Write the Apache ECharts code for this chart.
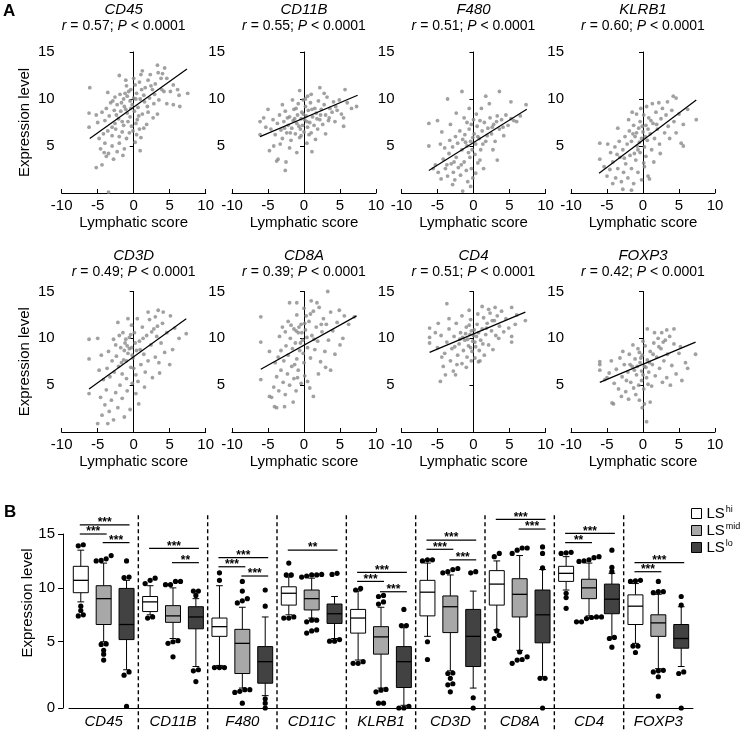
<!DOCTYPE html>
<html><head><meta charset="utf-8">
<script src="https://cdn.jsdelivr.net/npm/echarts@6/dist/echarts.min.js"></script>
<style>html,body{margin:0;padding:0;background:#fff}#c{width:742px;height:730px}</style>
</head><body><div id="c"></div>
<script>
// ---------------- Panel A data ----------------
const genesA = ['CD45','CD11B','F480','KLRB1','CD3D','CD8A','CD4','FOXP3'];
const rValues = ['0.57','0.55','0.51','0.60','0.49','0.39','0.51','0.42'];
const xTickLabels = ['-10','-5','0','5','10'];
const yTickLabels = ['5','10','15'];

const ptsCD45 = [[-6.1,11.2],[-6.2,8.5],[-6.2,7.0],[-5.2,8.3],[-5.2,2.7],[-4.4,3.0],[-3.8,3.9],[-4.6,4.7],[-4.0,5.3],[-3.5,4.2],[-3.0,5.0],[-2.8,3.6],[-2.3,4.4],[-1.5,4.0],[-1.3,4.7],[-4.8,5.8],[-4.2,6.3],[-3.6,6.6],[-3.0,6.1],[-2.5,6.8],[-2.0,6.0],[-1.6,6.5],[-1.0,5.8],[-0.6,6.4],[0.2,5.4],[0.9,4.5],[0.4,6.2],[-5.0,7.5],[-4.0,7.7],[-3.4,8.2],[-2.6,7.4],[-2.1,7.9],[-1.4,7.2],[-0.8,7.6],[-0.3,7.1],[0.3,7.4],[0.8,6.8],[1.4,6.9],[1.8,7.3],[-3.8,9.0],[-3.2,9.6],[-2.7,8.8],[-2.3,9.4],[-1.8,8.7],[-1.3,9.2],[-0.9,8.5],[-0.4,9.0],[0.1,8.7],[0.6,9.1],[1.2,8.4],[2.0,8.6],[2.7,8.0],[3.3,8.4],[-3.6,10.7],[-2.6,10.2],[-1.9,10.5],[-1.4,10.0],[-0.9,10.3],[-0.5,9.8],[0.0,10.1],[0.4,10.6],[0.9,10.0],[1.5,9.7],[2.2,10.1],[2.8,9.5],[3.5,9.9],[-2.0,12.5],[-1.0,11.4],[-0.4,11.0],[0.2,11.5],[0.8,11.8],[1.0,12.6],[1.6,11.2],[2.0,12.0],[2.3,12.6],[2.6,11.0],[3.0,11.6],[3.3,13.6],[3.8,12.2],[4.3,13.3],[4.6,12.2],[4.2,10.8],[5.1,10.8],[5.5,11.5],[5.5,9.4],[6.1,11.0],[6.3,10.4],[7.5,10.6],[6.4,9.2],[4.6,9.5],[-1.1,12.0],[1.2,13.0],[3.9,11.0],[-3.5,0.1],[-1.7,9.6],[-1.1,8.9],[-0.7,10.8],[-0.2,9.4],[0.3,10.0],[0.7,8.2],[1.1,11.0],[1.4,10.4],[1.9,9.2],[2.4,11.4],[2.9,10.5],[3.4,12.8],[4.0,12.7],[-2.4,8.3],[-1.6,7.6],[-0.5,8.1],[0.5,7.8],[-2.9,9.8],[-1.2,10.6],[0.0,12.2],[-4.4,8.6],[-3.0,7.0],[-0.1,6.6],[1.0,5.9],[-2.0,5.3],[-4.1,4.3]];
const ptsCD11B = [[-6.1,7.6],[-6.1,6.2],[-5.0,8.9],[-4.8,4.5],[-3.8,3.4],[-3.6,3.6],[-2.5,3.3],[-2.6,2.4],[-4.2,5.0],[1.1,4.4],[5.5,7.1],[5.5,8.0],[7.3,9.2],[5.7,11.0],[2.2,11.2],[-0.6,10.9],[-5.3,7.0],[-4.6,6.8],[-4.3,7.8],[-4.0,6.2],[-3.7,7.4],[-3.4,8.3],[-3.2,6.7],[-3.0,5.8],[-2.8,7.6],[-2.6,8.7],[-2.4,6.4],[-2.2,7.2],[-2.0,8.1],[-1.8,5.6],[-1.7,6.9],[-1.5,7.7],[-1.4,8.9],[-1.2,6.3],[-1.0,7.4],[-0.9,8.3],[-0.8,9.5],[-0.6,5.9],[-0.5,6.8],[-0.4,7.9],[-0.3,8.6],[-0.2,7.2],[0.0,6.5],[0.1,7.8],[0.2,9.2],[0.3,8.2],[0.4,5.3],[0.5,7.0],[0.6,8.8],[0.8,7.5],[0.9,9.6],[1.0,6.4],[1.2,8.1],[1.4,7.2],[1.5,9.0],[1.7,8.5],[1.9,6.8],[2.0,9.8],[2.2,7.8],[2.4,8.9],[2.6,7.3],[2.8,9.4],[3.0,8.3],[3.2,10.2],[3.4,7.7],[3.6,9.0],[3.9,8.6],[4.1,9.7],[4.3,7.6],[4.6,8.8],[4.9,9.9],[5.2,8.4],[6.0,9.6],[6.6,9.0],[2.8,10.6],[0.5,10.3],[-1.6,9.9],[-3.0,9.4],[-2.0,4.8],[-1.0,4.3],[-3.3,5.2],[1.6,5.7],[3.0,6.3],[-5.6,8.0],[-0.1,9.9],[1.0,10.5],[-1.3,7.9],[-0.7,7.1],[-0.1,8.4],[0.4,7.6],[0.7,6.2],[1.1,8.9],[1.8,7.9],[2.3,8.3],[-2.3,8.0],[-1.9,6.4],[-0.4,6.1],[-2.7,6.9],[-1.1,9.0],[0.2,10.0],[3.5,8.0],[4.4,9.2]];
const ptsF480 = [[-6.2,7.4],[-5.0,7.7],[-6.2,5.0],[-3.6,10.0],[-1.6,10.8],[1.7,10.3],[3.6,10.8],[5.2,9.7],[7.3,9.4],[5.6,7.7],[3.3,3.5],[-1.5,0.2],[-0.4,0.7],[-2.9,0.9],[-5.3,3.0],[-4.9,2.2],[-4.5,1.5],[-4.2,3.6],[-3.9,2.6],[-3.6,1.8],[-3.4,4.2],[-3.1,3.1],[-2.8,2.2],[-2.6,1.4],[-2.4,3.8],[-2.1,2.7],[-1.8,1.9],[-1.6,4.6],[-1.3,3.3],[-1.0,2.4],[-0.8,1.2],[-0.5,3.8],[-0.3,2.6],[-0.1,1.6],[0.3,2.1],[0.6,3.2],[-4.6,5.2],[-4.0,4.8],[-3.3,5.6],[-2.9,4.9],[-2.5,6.0],[-2.2,5.3],[-1.9,6.6],[-1.5,5.7],[-1.2,6.2],[-0.9,5.0],[-0.6,6.8],[-0.4,5.5],[-0.2,4.6],[0.1,6.3],[0.3,5.2],[0.5,7.1],[0.8,5.8],[1.0,4.6],[1.2,6.6],[1.5,7.5],[1.7,5.5],[2.0,6.9],[2.3,8.0],[2.5,6.3],[2.8,7.3],[3.0,5.5],[3.3,8.2],[3.6,6.8],[3.9,7.8],[4.2,6.1],[4.5,8.3],[4.8,7.2],[5.2,7.9],[6.0,7.6],[6.5,8.2],[-3.2,7.3],[-2.4,8.5],[-1.3,8.0],[-0.6,9.0],[0.4,8.4],[1.1,9.0],[2.2,9.5],[-4.4,6.5],[0.9,3.5],[1.4,2.6],[-5.6,2.6],[2.7,4.6],[-0.9,7.5],[0.0,7.8],[-0.7,4.3],[-0.1,5.9],[0.2,4.1],[0.6,6.0],[-1.1,5.4],[-1.7,3.0],[1.3,5.2],[1.9,6.1],[2.6,7.0],[3.2,7.6],[4.1,7.0],[-2.7,3.3],[-3.7,3.0],[-0.3,7.3],[0.9,7.7]];
const ptsKLRB1 = [[-6.0,5.3],[-6.0,3.6],[-4.9,5.2],[-3.5,6.9],[4.2,10.3],[4.6,10.1],[7.4,7.8],[5.3,5.3],[5.6,5.0],[-4.2,1.0],[-2.8,0.4],[-1.6,0.3],[0.9,1.5],[0.7,1.8],[-5.4,2.8],[-5.0,1.8],[-4.6,2.5],[-4.2,3.3],[-3.8,1.6],[-3.5,2.6],[-3.2,3.8],[-3.0,1.2],[-2.7,2.2],[-2.4,3.1],[-2.1,1.6],[-1.8,4.0],[-1.6,2.6],[-1.3,1.0],[-1.0,3.5],[-0.7,2.2],[-0.4,4.3],[-0.2,1.4],[0.2,2.8],[0.4,3.9],[-4.5,4.3],[-3.9,4.9],[-3.3,5.5],[-2.8,4.6],[-2.5,6.0],[-2.2,5.2],[-1.9,6.6],[-1.6,5.5],[-1.3,7.2],[-1.1,6.0],[-0.8,5.0],[-0.6,6.9],[-0.4,7.6],[-0.2,5.8],[0.0,6.5],[0.2,4.9],[0.4,7.2],[0.6,5.6],[0.8,8.0],[1.0,6.3],[1.2,4.6],[1.4,7.4],[1.6,5.8],[1.8,8.6],[2.0,6.8],[2.3,5.2],[2.5,7.9],[2.7,9.0],[3.0,6.4],[3.2,8.3],[3.5,7.1],[3.7,5.8],[4.0,8.8],[4.3,7.6],[4.6,6.4],[5.0,8.4],[5.6,7.3],[6.2,8.9],[-0.9,8.4],[-0.3,9.0],[0.5,9.2],[1.3,9.5],[2.2,9.6],[3.4,9.7],[-2.0,7.8],[1.5,3.3],[2.4,4.2],[-1.5,8.6],[0.1,3.2],[-0.9,6.4],[-0.5,5.4],[-0.1,7.1],[0.3,6.0],[0.7,6.8],[-1.4,6.3],[-0.7,4.6],[0.1,8.3],[1.1,7.7],[1.9,7.3],[-1.2,4.2],[-2.6,3.7],[-3.6,4.1]];
const ptsCD3D = [[-6.2,9.9],[-6.2,7.8],[-5.0,10.0],[-4.8,6.6],[-6.2,4.1],[-5.0,0.9],[-3.6,0.9],[-4.6,3.7],[-1.3,1.6],[0.7,3.0],[3.4,13.0],[4.1,12.8],[7.3,10.5],[5.7,11.1],[5.4,8.8],[3.6,6.3],[-2.2,11.7],[-0.8,12.1],[-4.4,1.8],[-4.0,2.9],[-3.8,4.5],[-3.4,2.2],[-3.1,3.4],[-2.8,1.3],[-2.5,4.2],[-2.2,2.6],[-1.9,5.0],[-1.6,3.6],[-0.9,4.4],[-0.5,2.4],[-0.2,5.2],[0.3,4.1],[-4.2,5.6],[-3.7,6.8],[-3.3,5.9],[-3.0,7.6],[-2.7,6.4],[-2.4,8.1],[-2.1,7.0],[-1.8,9.0],[-1.6,6.2],[-1.4,7.7],[-1.2,9.5],[-1.0,5.7],[-0.8,8.4],[-0.6,10.1],[-0.4,6.9],[-0.3,9.0],[-0.1,7.9],[0.1,10.6],[0.3,6.1],[0.4,8.7],[0.6,5.4],[0.8,9.7],[1.0,7.2],[1.2,11.2],[1.4,8.3],[1.6,6.4],[1.8,10.3],[2.0,7.6],[2.2,12.0],[2.4,9.3],[2.6,5.8],[2.8,11.0],[3.0,8.0],[3.2,10.2],[3.5,7.4],[3.8,9.5],[4.0,11.6],[4.3,8.5],[4.6,10.6],[5.0,7.2],[2.0,12.8],[0.5,12.1],[-1.5,10.6],[-2.8,9.9],[-3.5,8.6],[-2.0,10.3],[-0.3,11.4],[1.5,4.8],[-4.5,8.2],[6.3,10.0],[5.1,12.4],[3.0,12.3],[-1.1,9.9],[-0.9,9.2],[-0.6,8.9],[-0.4,10.4],[-1.3,8.7],[0.2,9.5],[-0.2,8.2],[-1.7,7.4],[0.9,8.8],[1.3,10.0],[2.5,10.7],[3.3,11.3],[-2.5,9.3],[-1.0,7.6],[0.0,6.8]];
const ptsCD8A = [[-6.0,12.3],[-6.0,9.6],[-6.0,5.6],[-4.8,8.6],[-4.1,2.7],[-3.8,2.6],[-2.7,2.7],[-4.8,3.8],[-4.5,3.7],[-2.0,13.8],[-1.0,13.8],[3.3,15.0],[1.0,14.0],[7.0,12.3],[5.6,12.4],[5.4,10.0],[3.7,6.6],[1.3,3.8],[0.8,4.7],[-4.2,4.8],[-3.8,5.9],[-3.5,4.4],[-3.2,6.6],[-2.9,5.3],[-2.6,4.0],[-2.3,6.2],[-2.0,5.0],[-1.7,7.0],[-1.4,5.7],[-1.1,4.4],[-0.8,6.6],[-0.4,5.2],[0.1,6.0],[0.5,5.4],[-4.0,7.4],[-3.6,8.0],[-3.2,8.7],[-2.8,7.6],[-2.5,9.2],[-2.2,8.2],[-1.9,10.0],[-1.6,8.9],[-1.4,11.0],[-1.2,9.5],[-1.0,7.8],[-0.8,10.6],[-0.6,8.7],[-0.4,11.5],[-0.2,9.8],[0.0,7.4],[0.2,10.9],[0.3,12.4],[0.5,9.0],[0.7,11.8],[0.9,7.9],[1.1,10.3],[1.3,12.9],[1.5,8.8],[1.7,11.2],[1.9,9.7],[2.1,13.3],[2.3,7.5],[2.5,10.7],[2.7,12.1],[2.9,8.6],[3.1,11.5],[3.4,9.8],[3.7,12.8],[4.0,10.8],[4.3,8.3],[4.6,11.7],[5.0,9.3],[-3.0,11.2],[-2.2,11.8],[-1.0,12.5],[1.8,13.8],[0.0,13.2],[-3.4,10.2],[2.0,6.2],[3.0,6.9],[6.2,11.5],[-1.5,3.2],[4.9,13.0],[-1.1,10.8],[-0.7,11.2],[-0.3,10.6],[0.1,11.6],[-1.8,11.4],[-0.5,9.5],[0.4,10.1],[-2.6,10.7],[0.9,12.6],[-0.1,8.4],[-1.3,7.2],[1.4,9.9],[2.4,11.5],[-0.9,5.8]];
const ptsCD4 = [[-6.1,11.1],[-6.1,10.1],[-6.1,9.5],[-4.9,11.6],[-3.7,13.7],[-4.6,5.4],[-3.9,6.1],[-4.2,7.0],[-2.8,6.5],[-2.5,6.1],[5.3,13.3],[7.2,11.9],[5.8,11.5],[5.3,10.2],[5.3,9.6],[0.7,7.5],[0.9,7.6],[3.5,10.0],[2.1,13.1],[-5.0,9.0],[-4.5,10.3],[-4.0,8.4],[-3.7,9.6],[-3.4,11.0],[-3.2,7.6],[-3.0,8.9],[-2.7,10.2],[-2.4,11.6],[-2.2,8.2],[-2.0,9.4],[-1.8,10.6],[-1.6,7.3],[-1.4,8.7],[-1.2,9.8],[-1.0,11.2],[-0.9,8.0],[-0.7,9.2],[-0.5,10.4],[-0.4,12.0],[-0.2,8.6],[-0.1,9.7],[0.1,10.9],[0.2,7.9],[0.3,9.1],[0.4,10.2],[0.5,11.5],[0.6,12.6],[0.8,8.7],[1.0,9.8],[1.2,11.0],[1.4,12.2],[1.5,8.2],[1.7,10.4],[1.9,11.6],[2.1,9.3],[2.3,12.7],[2.5,10.8],[2.7,8.8],[2.9,11.9],[3.1,10.3],[3.3,12.4],[3.6,11.3],[3.9,12.9],[4.2,10.7],[4.5,12.1],[4.9,11.1],[6.0,12.5],[-3.4,12.1],[-1.6,12.4],[-0.6,13.0],[1.2,13.4],[3.0,13.3],[-2.3,7.2],[-1.0,6.9],[-0.3,7.6],[-4.4,8.0],[-5.3,10.6],[-1.5,10.1],[-1.1,10.5],[-0.8,9.9],[-0.3,10.8],[0.0,10.3],[0.2,9.6],[0.7,10.6],[-0.6,11.4],[-1.9,9.9],[1.3,9.4],[1.8,11.1],[2.6,11.9],[-2.6,9.1],[-0.4,9.0]];
const ptsFOXP3 = [[-6.0,7.5],[-6.0,7.2],[-6.0,6.6],[-5.0,5.8],[-4.3,3.1],[-4.1,3.0],[-0.1,2.6],[0.2,3.0],[1.0,3.2],[0.5,1.1],[0.6,11.0],[3.3,10.9],[4.3,11.0],[5.2,9.1],[7.3,8.3],[5.9,7.4],[5.4,5.5],[3.3,5.8],[-5.3,5.6],[-4.7,6.3],[-4.4,7.6],[-4.0,5.2],[-3.7,6.7],[-3.4,4.6],[-3.2,7.9],[-2.9,5.9],[-2.6,7.2],[-2.4,4.3],[-2.1,6.4],[-1.9,8.3],[-1.7,5.3],[-1.5,7.0],[-1.3,4.7],[-1.1,7.8],[-0.9,6.1],[-0.7,8.9],[-0.6,5.0],[-0.4,7.4],[-0.2,6.5],[-0.1,8.2],[0.1,4.6],[0.2,7.0],[0.3,9.2],[0.5,5.8],[0.6,7.7],[0.8,6.4],[1.0,8.6],[1.2,4.9],[1.3,7.2],[1.5,9.5],[1.7,6.0],[1.9,8.0],[2.1,10.0],[2.3,6.8],[2.5,8.9],[2.7,5.3],[2.9,7.6],[3.1,9.8],[3.4,8.3],[3.7,10.2],[4.0,7.1],[4.3,9.4],[4.6,6.2],[5.0,8.4],[6.2,6.8],[-2.0,3.5],[-1.0,4.0],[-3.0,3.8],[1.6,10.6],[2.6,10.6],[-1.4,9.3],[0.0,9.7],[3.8,5.0],[-0.5,3.4],[-2.8,8.6],[-0.8,7.0],[-0.3,7.9],[0.0,6.1],[0.4,6.9],[-1.2,6.6],[-0.5,8.5],[0.9,7.4],[-1.8,7.2],[1.4,8.3],[2.2,9.1],[2.8,9.6],[-0.2,5.5],[0.7,5.1],[-2.3,5.5]];
const pointsA = [ptsCD45, ptsCD11B, ptsF480, ptsKLRB1, ptsCD3D, ptsCD8A, ptsCD4, ptsFOXP3];

// regression line end points
const fitCD45 = [[-6.1,5.8],[7.4,13.2]];
const fitCD11B = [[-6.1,6.0],[7.45,10.4]];
const fitF480 = [[-6.2,2.4],[7.4,8.9]];
const fitKLRB1 = [[-6.1,2.1],[7.4,9.9]];
const fitCD3D = [[-6.2,4.6],[7.3,12.1]];
const fitCD8A = [[-6.0,6.7],[7.3,12.4]];
const fitCD4 = [[-6.1,8.5],[7.2,12.8]];
const fitFOXP3 = [[-6.0,5.3],[7.3,9.6]];
const fitsA = [fitCD45, fitCD11B, fitF480, fitKLRB1, fitCD3D, fitCD8A, fitCD4, fitFOXP3];

// ---------------- Panel B data ----------------
const genesB = ['CD45','CD11B','F480','CD11C','KLRB1','CD3D','CD8A','CD4','FOXP3'];
const groupNames = ['hi','mid','lo'];
// [low whisker, Q1, median, Q3, high whisker]
const boxHi = [[8.7,9.55,10.7,12.0,13.5],[7.5,7.8,8.7,9.2,10.2],[2.8,5.5,6.4,7.2,10.2],[7.5,8.4,9.5,10.1,11.0],[3.3,5.8,7.2,8.0,9.7],[5.5,7.4,9.6,10.7,12.3],[6.1,8.4,10.35,11.6,12.5],[9.8,10.6,11.35,12.0,12.9],[4.85,6.6,8.3,9.35,10.4]];
const boxMid = [[5.0,6.6,9.0,10.2,12.3],[5.3,6.8,7.4,8.35,10.0],[0.7,2.05,4.85,6.15,8.2],[7.2,7.95,9.0,9.8,10.9],[0.7,3.85,5.45,6.4,8.2],[2.3,5.85,8.25,9.25,11.2],[4.2,7.3,9.4,10.85,13.0],[7.4,9.0,10.0,10.8,12.3],[2.5,5.5,6.75,7.5,9.4]];
const boxLo = [[2.4,5.2,6.6,9.95,10.7],[2.7,6.2,7.3,8.25,9.0],[0.0,1.15,3.15,4.55,7.3],[5.3,6.7,7.6,8.5,9.2],[-0.9,0.75,3.15,4.55,6.3],[0.7,2.7,5.5,8.0,9.7],[1.75,4.9,7.5,9.8,11.7],[5.45,7.6,8.95,10.35,11.35],[2.7,4.4,5.3,6.6,8.25]];
// outliers: [gene index, value]
const outHi = [[0,14.0],[0,13.9],[0,8.3],[0,7.9],[0,7.5],[0,7.4],[1,10.9],[1,10.7],[1,10.4],[1,7.3],[1,7.2],[2,11.4],[2,10.7],[2,2.6],[2,2.6],[2,2.6],[3,12.3],[3,11.2],[3,11.2],[3,7.3],[3,7.2],[3,7.2],[4,9.95],[4,9.8],[4,3.15],[4,3.0],[4,3.0],[5,12.6],[5,12.5],[5,12.6],[5,5.0],[5,3.35],[6,13.2],[6,12.9],[6,6.0],[6,5.6],[6,5.3],[7,13.3],[7,13.2],[7,13.25],[7,9.5],[7,9.1],[7,8.1],[8,10.7],[8,10.6],[8,10.65],[8,4.6],[8,4.6],[8,4.0]];
const outMid = [[0,13.0],[0,12.7],[0,12.5],[0,12.55],[0,4.8],[0,4.75],[0,4.2],[0,3.85],[0,3.3],[1,10.6],[1,10.3],[1,10.6],[1,10.3],[1,5.1],[1,4.85],[1,5.0],[1,3.6],[2,10.6],[2,9.7],[2,9.0],[2,8.8],[2,8.6],[2,0.55],[2,0.4],[2,0.55],[2,0.3],[2,-0.7],[3,11.2],[3,11.2],[3,11.0],[3,11.1],[3,11.25],[3,7.0],[3,6.85],[3,7.0],[3,6.1],[3,5.8],[3,6.0],[4,9.3],[4,9.2],[4,8.7],[4,8.5],[4,0.57],[4,0.5],[4,0.35],[4,-0.7],[4,-0.7],[5,11.7],[5,11.8],[5,11.5],[5,11.4],[5,2.1],[5,2.05],[5,1.6],[5,1.1],[5,1.0],[5,0.35],[6,13.7],[6,13.7],[6,13.5],[6,13.2],[6,4.05],[6,3.6],[6,3.3],[6,3.35],[6,3.0],[7,12.8],[7,12.6],[7,12.45],[7,12.9],[7,12.5],[7,7.3],[7,7.15],[7,7.25],[7,6.85],[7,6.85],[7,7.3],[8,10.6],[8,9.65],[8,9.65],[8,9.55],[8,2.3],[8,2.2],[8,2.35],[8,1.75],[8,-0.05]];
const outLo = [[0,12.5],[0,10.95],[0,11.0],[0,2.2],[0,1.9],[0,-1.0],[1,9.7],[1,9.7],[1,9.3],[1,2.4],[1,2.3],[1,1.3],[2,9.8],[2,8.3],[2,-0.3],[2,-0.7],[2,-1.15],[3,11.25],[3,11.35],[3,5.2],[3,5.05],[3,5.05],[4,8.0],[4,6.5],[4,6.5],[4,-1.0],[4,-1.15],[4,-1.15],[5,11.5],[5,11.4],[5,-0.2],[5,-1.15],[6,13.8],[6,13.2],[6,11.85],[6,1.6],[6,1.6],[6,-1.15],[7,13.5],[7,11.9],[7,11.5],[7,5.4],[7,5.3],[7,4.5],[8,9.2],[8,8.4],[8,2.2],[8,2.05],[8,-1.15]];
// significance bars: [gene index, from group, to group, height, label]
const sigBars = [[0,0,2,15.84,'***'],[0,0,1,15.0,'***'],[0,1,2,14.2,'***'],[1,0,2,13.67,'***'],[1,1,2,12.34,'**'],[2,0,2,12.8,'***'],[2,0,1,11.96,'***'],[2,1,2,11.1,'***'],[3,0,2,13.5,'**'],[4,0,2,11.44,'***'],[4,0,1,10.6,'***'],[4,1,2,9.64,'***'],[5,0,2,14.44,'***'],[5,0,1,13.58,'***'],[5,1,2,12.6,'***'],[6,0,2,16.36,'***'],[6,1,2,15.46,'***'],[7,0,2,15.06,'***'],[7,0,1,14.2,'**'],[8,0,2,12.34,'***'],[8,0,1,11.5,'***']];
const yMinB = -1.15, yMaxB = 15;
const boxTickValues = [yMinB, 5, 10, 15];
const boxTickLabels = ['0', '5', '10', '15'];
const sepTop = 16.75;

// ---------------- build ----------------
const FONT = "'Liberation Sans', Arial, Helvetica, sans-serif";
const chart = echarts.init(document.getElementById('c'), null, {renderer: 'canvas'});
const lefts = [61.7, 232, 401.5, 571];
const tops = [52, 291.5];
const heights = [141, 140.5];
const grids = [], xAxes = [], yAxes = [], series = [], titles = [];

for (let i = 0; i < 8; i++) {
  const c = i % 4, r = Math.floor(i / 4);
  grids.push({left: lefts[c], top: tops[r], width: 144, height: heights[r], containLabel: false, outerBoundsMode: 'none'});
  xAxes.push({gridIndex: i, type: 'value', min: -10, max: 10, interval: 5,
    axisLine: {onZero: false, lineStyle: {color: '#000', width: 1}},
    axisTick: {inside: true, length: 4, lineStyle: {color: '#000'}},
    axisLabel: {color: '#000', fontSize: 15, margin: 5, fontFamily: FONT,
      formatter: v => xTickLabels[(v + 10) / 5]},
    splitLine: {show: false},
    name: 'Lymphatic score', nameLocation: 'middle', nameGap: 22,
    nameTextStyle: {fontSize: 15, color: '#000', fontFamily: FONT}});
  yAxes.push({gridIndex: i, type: 'value', min: 0, max: 15, interval: 5,
    axisLine: {onZero: true, lineStyle: {color: '#000', width: 1}},
    axisTick: {length: 4, lineStyle: {color: '#000'}},
    axisLabel: {color: '#000', fontSize: 15, margin: 7, fontFamily: FONT,
      formatter: v => v === 0 ? '' : yTickLabels[v / 5 - 1]},
    splitLine: {show: false},
    name: c === 0 ? 'Expression level' : '', nameLocation: 'middle', nameGap: 29,
    nameTextStyle: {fontSize: 15, color: '#000', fontFamily: FONT}});
  series.push({type: 'scatter', xAxisIndex: i, yAxisIndex: i, data: pointsA[i],
    symbolSize: 3.8, itemStyle: {color: '#8a8a8a'}, clip: false, silent: true, z: 2});
  series.push({type: 'line', xAxisIndex: i, yAxisIndex: i, data: fitsA[i],
    showSymbol: false, symbol: 'none', lineStyle: {color: '#000', width: 1.2}, silent: true, z: 3});
  const cx = lefts[c] + 72 + (i === 0 ? -10 : 0);
  titles.push({text: '{g|' + genesA[i] + '}\n{i|r} = ' + rValues[i] + '; {i|P} < 0.0001',
    left: cx, top: r === 0 ? 2 : 248, textAlign: 'center', padding: 0,
    textStyle: {fontSize: 14, fontWeight: 'normal', color: '#000', fontFamily: FONT, lineHeight: 16,
      rich: {g: {fontStyle: 'italic', fontSize: 15, lineHeight: 16, fontFamily: FONT, color: '#000'},
             i: {fontStyle: 'italic', fontSize: 14, lineHeight: 16, fontFamily: FONT, color: '#000'}}}});
}
titles.push({text: 'A', left: 3, top: 3, padding: 0, textStyle: {fontSize: 17, fontWeight: 'bold', color: '#000', fontFamily: FONT}});
titles.push({text: 'B', left: 4, top: 504, padding: 0, textStyle: {fontSize: 17, fontWeight: 'bold', color: '#000', fontFamily: FONT}});

// Panel B
const gB = 8;
grids.push({left: 69, top: 534, width: 624, height: 174, containLabel: false, outerBoundsMode: 'none'});
xAxes.push({gridIndex: gB, type: 'category', data: genesB, boundaryGap: true,
  axisLine: {onZero: false, lineStyle: {color: '#000', width: 1}}, axisTick: {show: false},
  axisLabel: {interval: 0, color: '#000', fontSize: 15, fontStyle: 'italic', margin: 6, fontFamily: FONT},
  splitLine: {show: false}});
yAxes.push({gridIndex: gB, type: 'value', min: yMinB, max: yMaxB, offset: 6,
  axisLine: {show: true, onZero: false, lineStyle: {color: '#000', width: 1}},
  axisTick: {show: true, length: 5, lineStyle: {color: '#000'}, customValues: boxTickValues},
  axisLabel: {color: '#000', fontSize: 15, margin: 8, fontFamily: FONT, customValues: boxTickValues,
    formatter: v => boxTickLabels[boxTickValues.indexOf(v)]},
  splitLine: {show: false}});

const fills = ['#ffffff', '#a8a8a8', '#424242'];
const boxes = [boxHi, boxMid, boxLo];
const outs = [outHi, outMid, outLo];
const OFF = 0.33, HALF = 0.108;

function centerX(api, gi, grp) {
  const band = api.size([1, 0])[0];
  return api.coord([gi, 0])[0] + (grp - 1) * band * OFF;
}

groupNames.forEach((name, g) => {
  series.push({type: 'custom', name: name, xAxisIndex: gB, yAxisIndex: gB,
    itemStyle: {color: fills[g], borderColor: '#000', borderWidth: 1},
    data: boxes[g].map((b, gi) => [gi].concat(b)),
    encode: {x: 0, y: [1, 2, 3, 4, 5]}, silent: true, z: 3,
    renderItem: (params, api) => {
      const gi = api.value(0);
      const band = api.size([1, 0])[0];
      const cx = centerX(api, gi, g);
      const hw = band * HALF, cap = hw * 0.45;
      const y = k => api.coord([gi, api.value(k)])[1];
      const yLow = y(1), yQ1 = y(2), yMed = y(3), yQ3 = y(4), yHigh = y(5);
      const ls = {stroke: '#000', lineWidth: 1};
      return {type: 'group', children: [
        {type: 'line', shape: {x1: cx, y1: yHigh, x2: cx, y2: yQ3}, style: ls},
        {type: 'line', shape: {x1: cx, y1: yQ1, x2: cx, y2: yLow}, style: ls},
        {type: 'line', shape: {x1: cx - cap, y1: yHigh, x2: cx + cap, y2: yHigh}, style: ls},
        {type: 'line', shape: {x1: cx - cap, y1: yLow, x2: cx + cap, y2: yLow}, style: ls},
        {type: 'rect', shape: {x: cx - hw, y: yQ3, width: 2 * hw, height: yQ1 - yQ3},
          style: {fill: fills[g], stroke: '#000', lineWidth: 1}},
        {type: 'line', shape: {x1: cx - hw, y1: yMed, x2: cx + hw, y2: yMed}, style: {stroke: '#000', lineWidth: 1.3}}
      ]};
    }});
  // spread near-equal outliers sideways (layout only)
  const spread = [];
  const sorted = outs[g].map((p, k) => ({p, k})).sort((a, b) => a.p[0] - b.p[0] || a.p[1] - b.p[1]);
  let cluster = [];
  const flush = () => { cluster.forEach((o, j) => spread[o.k] = j - (cluster.length - 1) / 2); cluster = []; };
  sorted.forEach(o => {
    if (cluster.length && (o.p[0] !== cluster[0].p[0] || o.p[1] - cluster[cluster.length - 1].p[1] > 0.35)) flush();
    cluster.push(o);
  });
  flush();
  series.push({type: 'custom', name: name, xAxisIndex: gB, yAxisIndex: gB,
    itemStyle: {color: '#000'}, data: outs[g], encode: {x: 0, y: 1}, silent: true, z: 4,
    renderItem: (params, api) => {
      const gi = api.value(0);
      const cx = centerX(api, gi, g) + spread[params.dataIndex] * 5;
      const cy = api.coord([gi, api.value(1)])[1];
      return {type: 'circle', shape: {cx: cx, cy: cy, r: 2.6}, style: {fill: '#000'}};
    }});
});

// dashed separators between genes
series.push({type: 'custom', xAxisIndex: gB, yAxisIndex: gB, silent: true, z: 1,
  data: [1, 2, 3, 4, 5, 6, 7, 8].map(i => [i, sepTop]), encode: {x: 0, y: 1},
  renderItem: (params, api) => {
    const gi = api.value(0);
    const band = api.size([1, 0])[0];
    const x = api.coord([gi, 0])[0] - band / 2;
    const yTop = api.coord([gi, api.value(1)])[1];
    const yBot = api.coord([gi, yMinB])[1] + 22;
    return {type: 'line', shape: {x1: x, y1: yTop, x2: x, y2: yBot},
      style: {stroke: '#000', lineWidth: 1.4, lineDash: [4, 3]}};
  }});

// significance bars
series.push({type: 'custom', xAxisIndex: gB, yAxisIndex: gB, silent: true, z: 5,
  data: sigBars.map(s => [s[0], s[1], s[2], s[3]]), encode: {x: 0, y: 3},
  renderItem: (params, api) => {
    const gi = api.value(0);
    const x1 = centerX(api, gi, api.value(1)) - 1;
    const x2 = centerX(api, gi, api.value(2)) + 3;
    const yv = api.coord([gi, api.value(3)])[1];
    return {type: 'group', children: [
      {type: 'line', shape: {x1: x1, y1: yv, x2: x2, y2: yv}, style: {stroke: '#000', lineWidth: 1.2}},
      {type: 'text', style: {text: sigBars[params.dataIndex][4], x: (x1 + x2) / 2, y: yv - 2,
        align: 'center', verticalAlign: 'middle', font: 'bold 12px ' + FONT, fill: '#000'}}
    ]};
  }});

const option = {
  animation: false,
  backgroundColor: '#fff',
  title: titles,
  grid: grids,
  xAxis: xAxes,
  yAxis: yAxes,
  legend: {
    data: [
      {name: 'hi', icon: 'rect', itemStyle: {color: fills[0], borderColor: '#000', borderWidth: 1}},
      {name: 'mid', icon: 'rect', itemStyle: {color: fills[1], borderColor: '#000', borderWidth: 1}},
      {name: 'lo', icon: 'rect', itemStyle: {color: fills[2], borderColor: '#000', borderWidth: 1}}
    ],
    orient: 'vertical', left: 691, top: 505, itemWidth: 10, itemHeight: 10, itemGap: 0,
    padding: 0, selectedMode: false,
    formatter: n => '{a|LS}{s|' + n + '}',
    textStyle: {color: '#000', fontFamily: FONT, fontSize: 15,
      rich: {a: {fontSize: 15, fontFamily: FONT, color: '#000', lineHeight: 15},
             s: {fontSize: 9, fontFamily: FONT, color: '#000', padding: [0, 0, 8, 1], lineHeight: 9}}}
  },
  graphic: [{type: 'text', x: 28, y: 603, rotation: Math.PI / 2,
    style: {text: 'Expression level', font: '15px ' + FONT, fill: '#000', align: 'center', verticalAlign: 'middle'}}],
  series: series
};
chart.setOption(option);
</script></body></html>
